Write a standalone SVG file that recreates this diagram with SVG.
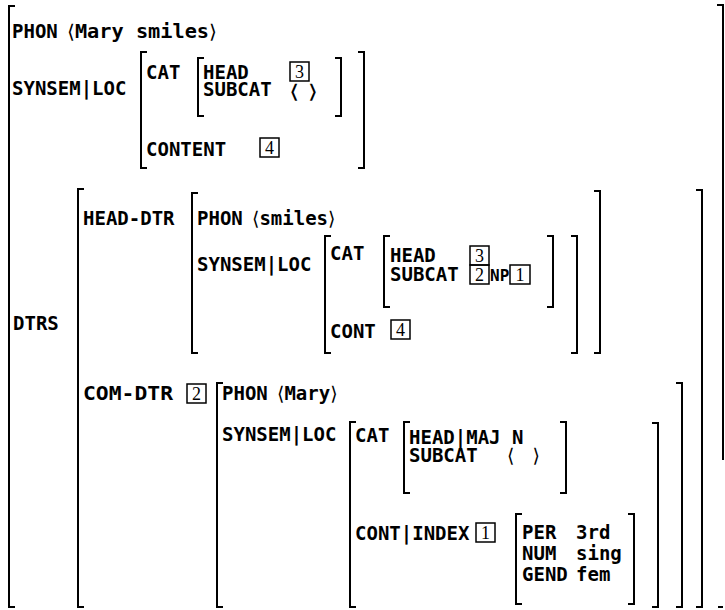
<svg xmlns="http://www.w3.org/2000/svg" width="725" height="610" viewBox="0 0 725 610">
<style>
.t{font-family:"DejaVu Sans Mono","Liberation Mono",monospace;font-weight:bold;font-size:19px;fill:#000}
.a{font-family:"DejaVu Sans","DejaVu Sans Mono",sans-serif;font-weight:normal}
.d{font-family:"Liberation Serif","DejaVu Serif",serif;font-size:18px;fill:#000;text-anchor:middle}
.br{fill:none;stroke:#000;stroke-width:2}
.bx{fill:none;stroke:#000;stroke-width:1.5}
</style>
<rect width="725" height="610" fill="#fff"/>
<g id="outer">
<path class="br" d="M15 6H9V607H15"/>
<path class="br" d="M717 5H723V460"/>
<path class="br" d="M718 607H723"/>
<text class="t" x="12" y="38">PHON</text>
<text class="t" x="67" y="38" textLength="150" lengthAdjust="spacingAndGlyphs"><tspan class="a">⟨</tspan>Mary smiles<tspan class="a">⟩</tspan></text>
<text class="t" x="12" y="95">SYNSEM|LOC</text>
<text class="t" x="13" y="330">DTRS</text>
</g>
<g id="top-synsem">
<path class="br" d="M147 52H141V168H147"/>
<path class="br" d="M358 52H364V168H358"/>
<text class="t" x="146" y="79">CAT</text>
<path class="br" d="M204 58H198V116H204"/>
<path class="br" d="M335 58H341V116H335"/>
<text class="t"><tspan x="203" y="79">HEAD</tspan><tspan x="203" y="96">SUBCAT</tspan></text>
<rect class="bx" x="290" y="62" width="19" height="19"/><text class="d" x="299.5" y="78">3</text>
<text class="t a" x="289" y="98" textLength="29" lengthAdjust="spacingAndGlyphs">⟨ ⟩</text>
<text class="t" x="146" y="156">CONTENT</text>
<rect class="bx" x="260" y="138" width="19" height="19"/><text class="d" x="269.5" y="154">4</text>
</g>
<g id="dtrs">
<path class="br" d="M84 189H78V607H84"/>
<path class="br" d="M696 190H702V607H696"/>
</g>
<g id="head-dtr">
<text class="t" x="83" y="225">HEAD-DTR</text>
<path class="br" d="M198 193H192V353H198"/>
<path class="br" d="M594 191H600V353H594"/>
<text class="t" x="197" y="225">PHON</text>
<text class="t" x="252" y="225"><tspan class="a">⟨</tspan>smiles<tspan class="a">⟩</tspan></text>
<text class="t" x="197" y="271">SYNSEM|LOC</text>
<path class="br" d="M331 236H325V353H331"/>
<path class="br" d="M571 236H577V353H571"/>
<text class="t" x="330" y="260">CAT</text>
<path class="br" d="M390 236H384V307H390"/>
<path class="br" d="M547 236H553V307H547"/>
<text class="t"><tspan x="390" y="262">HEAD</tspan><tspan x="390" y="281">SUBCAT</tspan></text>
<rect class="bx" x="470" y="246" width="19" height="19"/><text class="d" x="479.5" y="262">3</text>
<rect class="bx" x="470" y="265" width="19" height="19"/><text class="d" x="479.5" y="281">2</text>
<text class="t" x="490" y="281" style="font-size:16px">NP</text>
<rect class="bx" x="510" y="265" width="20" height="19"/><text class="d" x="520" y="281">1</text>
<text class="t" x="330" y="338">CONT</text>
<rect class="bx" x="391" y="320" width="19" height="19"/><text class="d" x="400.5" y="336">4</text>
</g>
<g id="com-dtr">
<text class="t" x="83" y="400" textLength="90" lengthAdjust="spacingAndGlyphs">COM-DTR</text>
<rect class="bx" x="187" y="384" width="19" height="19"/><text class="d" x="196.5" y="400">2</text>
<path class="br" d="M223 383H217V607H223"/>
<path class="br" d="M676 383H682V607H676"/>
<text class="t" x="222" y="400">PHON</text>
<text class="t" x="277" y="400"><tspan class="a">⟨</tspan>Mary<tspan class="a">⟩</tspan></text>
<text class="t" x="222" y="441">SYNSEM|LOC</text>
<path class="br" d="M356 422H350V607H356"/>
<path class="br" d="M652 423H658V607H652"/>
<text class="t" x="355" y="442">CAT</text>
<path class="br" d="M410 422H404V493H410"/>
<path class="br" d="M560 422H566V493H560"/>
<text class="t"><tspan x="409" y="444">HEAD|MAJ N</tspan><tspan x="409" y="462">SUBCAT</tspan><tspan class="a" x="507" y="462">⟨&#160;&#160;&#160;⟩</tspan></text>
<text class="t" x="355" y="540">CONT|INDEX</text>
<rect class="bx" x="476" y="523" width="19" height="19"/><text class="d" x="485.5" y="539">1</text>
<path class="br" d="M522 514H516V604H522"/>
<path class="br" d="M628 514H634V604H628"/>
<text class="t"><tspan x="522" y="539">PER</tspan><tspan x="576" y="539">3rd</tspan><tspan x="522" y="560">NUM</tspan><tspan x="576" y="560">sing</tspan><tspan x="522" y="581">GEND</tspan><tspan x="576" y="581">fem</tspan></text>
</g>
</svg>
